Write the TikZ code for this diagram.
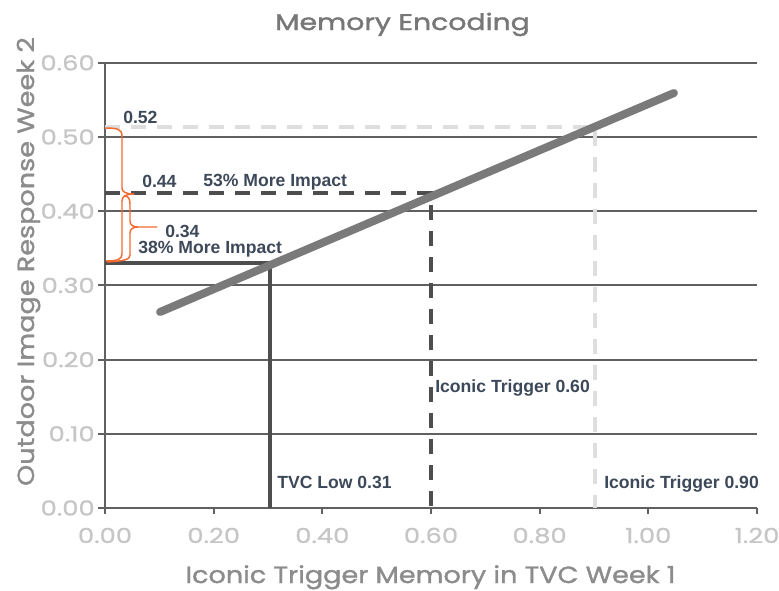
\documentclass[tikz,border=0pt]{standalone}
\usepackage{fontspec}
\setmainfont{Poppins}
\newfontfamily\titfont{Poppins}[FakeStretch=1.25, FakeBold=1.6]
\newfontfamily\axfont{Poppins}[FakeStretch=1.16, FakeBold=1.4]
\newfontfamily\tickfont{Poppins}[FakeStretch=1.25, FakeBold=1.0]
\newfontfamily\labfont{Liberation Sans}
\definecolor{gridc}{HTML}{606060}
\definecolor{tickc}{HTML}{C6C6C6}
\definecolor{axtitc}{HTML}{8C8C8C}
\definecolor{titc}{HTML}{777777}
\definecolor{labc}{HTML}{3D4859}
\definecolor{trendc}{HTML}{7A7A7A}
\definecolor{darkc}{HTML}{4E4E4E}
\definecolor{lightc}{HTML}{DEDEDE}
\definecolor{bracec}{HTML}{F26A30}
\tikzset{
  gridline/.style={draw=gridc, line width=1.4pt},
  ticklab/.style={text=tickc, font=\tickfont\fontsize{15.5}{18}\selectfont, inner sep=0pt},
  axtitle/.style={text=axtitc, font=\axfont\fontsize{17.5}{20}\selectfont, inner sep=0pt},
  datalab/.style={text=labc, font=\labfont\bfseries\fontsize{13.2}{15}\selectfont, inner sep=0pt, anchor=base west},
  trend/.style={draw=trendc, line width=6pt, line cap=round},
  solidref/.style={draw=darkc, line width=2.4pt},
  darkdash/.style={draw=darkc, line width=3pt, dash pattern=on 11.5pt off 8pt},
  lightdash/.style={draw=lightc, line width=2.4pt, dash pattern=on 11.5pt off 8pt},
  bracestyle/.style={draw=bracec, line width=1.1pt, line join=round}
}
\begin{document}
\begin{tikzpicture}[x=0.75pt, y=-0.75pt]
\useasboundingbox (0,0) rectangle (779,590);
% grid
\foreach \yy/\nm in {62.8/g6, 137/g5, 211.2/g4, 285.4/g3, 359.6/g2, 433.8/g1, 508/g0}{
  \coordinate (\nm l) at (98,\yy);
  \coordinate (\nm r) at (757,\yy);
  \draw[gridline] (\nm l) -- (\nm r);
}
\coordinate (axtop) at (105,62.8);
\coordinate (axbot) at (105,508);
\draw[gridline] (axtop) -- (axbot);
\foreach \xx/\nm in {105/t0, 213.7/t1, 322.3/t2, 431/t3, 539.6/t4, 648.3/t5, 757/t6}{
  \coordinate (\nm a) at (\xx,508);
  \coordinate (\nm b) at (\xx,514);
  \draw[gridline] (\nm a) -- (\nm b);
}
% tick labels
\foreach \xx/\lab/\nm in {105/0.00/xl0, 213.7/0.20/xl1, 322.3/0.40/xl2, 431/0.60/xl3, 539.6/0.80/xl4, 648.3/1.00/xl5, 757/1.20/xl6}{
  \node[ticklab, anchor=base] (\nm) at (\xx,543) {\lab};
}
\foreach \yy/\lab/\nm in {62.8/0.60/yl6, 137/0.50/yl5, 211.2/0.40/yl4, 285.4/0.30/yl3, 359.6/0.20/yl2, 433.8/0.10/yl1, 508/0.00/yl0}{
  \node[ticklab, anchor=east] (\nm) at (95,\yy) {\lab};
}
% titles
\node[text=titc, font=\titfont\fontsize{17}{20}\selectfont, inner sep=0pt, anchor=base] (title) at (402.5,30) {Memory Encoding};
\node[axtitle, anchor=base] (xtitle) at (430.5,583) {Iconic Trigger Memory in TVC Week 1};
\node[axtitle, anchor=base, rotate=90] (ytitle) at (34,261.5) {Outdoor Image Response Week 2};
% reference lines
\coordinate (la) at (105,127);
\coordinate (lb) at (595,127);
\coordinate (lc) at (595,508);
\draw[lightdash] (la) -- (lb) -- (lc);
\coordinate (da) at (105,193);
\coordinate (db) at (431,193);
\coordinate (dc) at (431,508);
\draw[darkdash] (da) -- (db) -- (dc);
\coordinate (sa) at (105,263);
\coordinate (sb) at (270,263);
\coordinate (sc) at (270,508);
\draw[solidref] (sa) -- (sb) -- (sc);
% trend line
\coordinate (tra) at (160,312);
\coordinate (trb) at (674,93);
\draw[trend] (tra) -- (trb);
% braces
\draw[bracestyle] (105,128) .. controls (117,128) and (122,129) .. (122,136) -- (122,188)
  .. controls (122,192) and (126,194) .. (134,194)
  .. controls (126,194) and (122,196) .. (122,201) -- (122,254)
  .. controls (122,259) and (118,261) .. (106,261);
\draw[bracestyle] (124,196) .. controls (128,196) and (130,198) .. (130,204) -- (130,221)
  .. controls (130,225) and (133,227) .. (138,227) -- (157,227)
  -- (138,227) .. controls (133,227) and (130,229) .. (130,233) -- (130,255)
  .. controls (130,259) and (126,261) .. (107,262);
% data labels
\node[datalab] (l052) at (123,123) {0.52};
\node[datalab] (l044) at (142,187) {0.44};
\node[datalab] (l53) at (203,186) {53\% More Impact};
\node[datalab] (l034) at (165,237) {0.34};
\node[datalab] (l38) at (138,253) {38\% More Impact};
\node[datalab] (ltvc) at (277,488) {TVC Low 0.31};
\node[datalab] (lit6) at (435,392) {Iconic Trigger 0.60};
\node[datalab] (lit9) at (604,488) {Iconic Trigger 0.90};
\end{tikzpicture}
\end{document}
